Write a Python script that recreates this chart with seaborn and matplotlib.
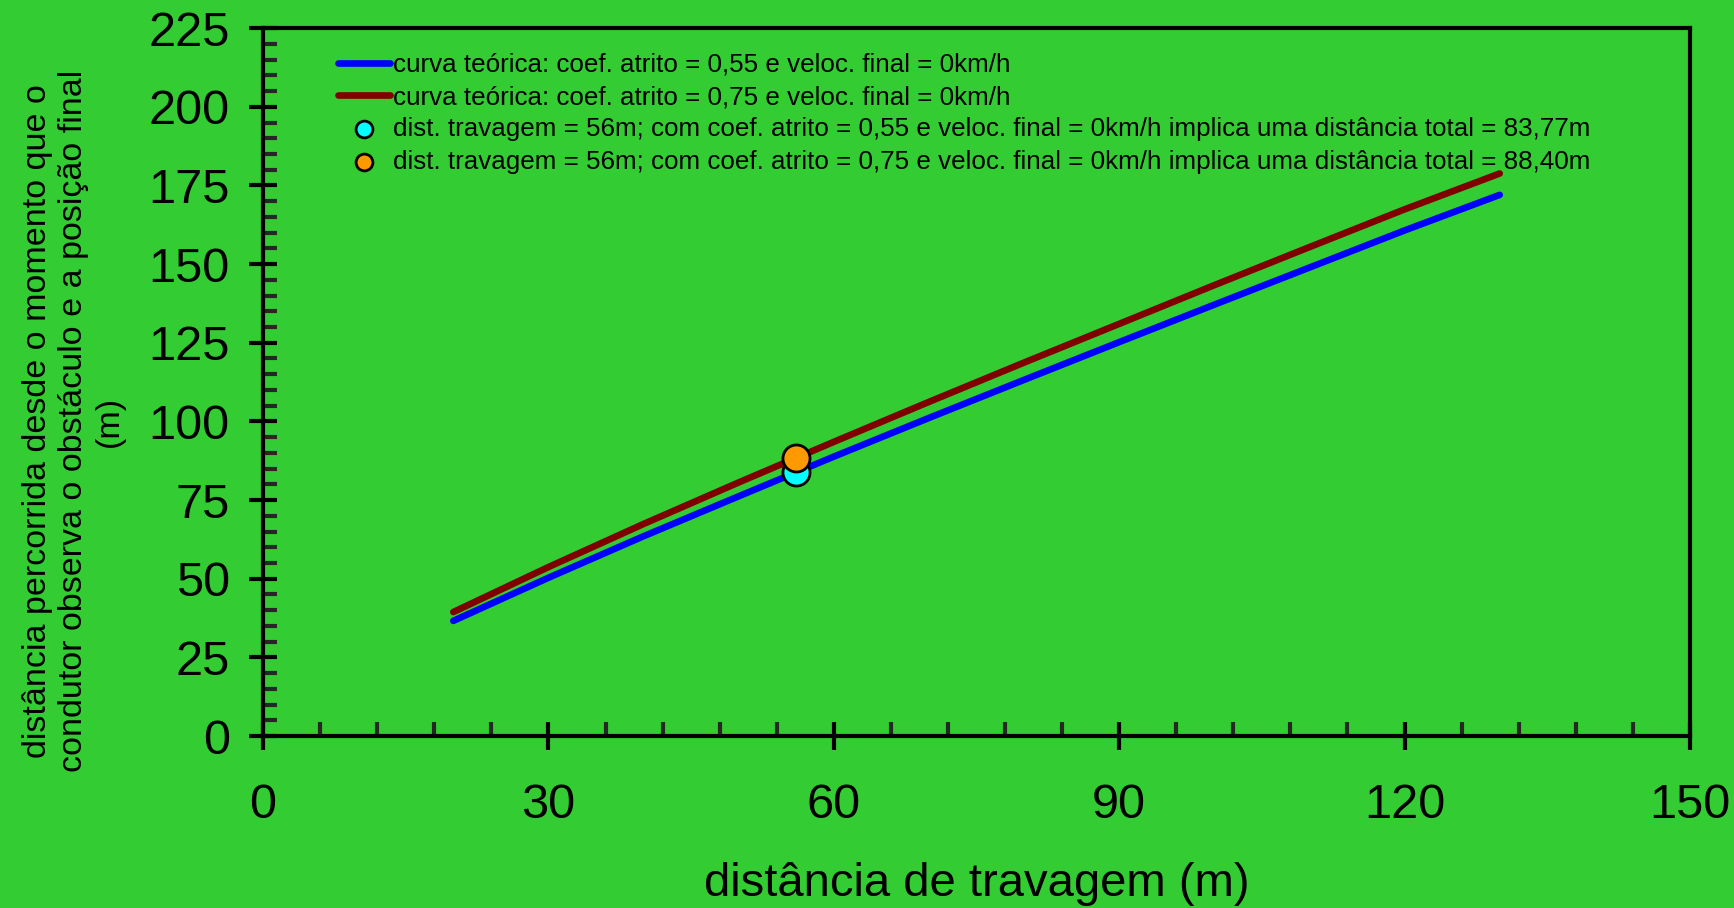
import numpy as np
import pandas as pd
import matplotlib
matplotlib.use('Agg')
import matplotlib.pyplot as plt
import seaborn as sns
from matplotlib.ticker import MultipleLocator

# values
dist_travagem = [20, 30, 40, 50, 60, 70, 80, 90, 100, 110, 120, 130]
total_055 = [36.6, 50.3, 63.5, 76.2, 88.8, 101.1, 113.2, 125.2, 137.1, 148.9, 160.7, 172.0]
total_075 = [39.4, 53.7, 67.4, 80.6, 93.5, 106.2, 118.7, 131.0, 143.3, 155.4, 167.4, 178.8]
ponto_x = [56, 56]
ponto_y = [83.77, 88.40]

lbl_055 = 'curva teórica: coef. atrito = 0,55 e veloc. final = 0km/h'
lbl_075 = 'curva teórica: coef. atrito = 0,75 e veloc. final = 0km/h'
lbl_p055 = 'dist. travagem = 56m; com coef. atrito = 0,55 e veloc. final = 0km/h implica uma distância total = 83,77m'
lbl_p075 = 'dist. travagem = 56m; com coef. atrito = 0,75 e veloc. final = 0km/h implica uma distância total = 88,40m'

green = '#33CC33'
sns.set_style('ticks')
plt.rcParams['font.family'] = ['Liberation Sans', 'DejaVu Sans']
plt.rcParams['text.color'] = 'black'
plt.rcParams['axes.labelcolor'] = 'black'

df = pd.DataFrame({'x': dist_travagem, 'a': total_055, 'b': total_075})

fig = plt.figure(figsize=(17.34, 9.08), dpi=100, facecolor=green)
ax = fig.add_axes([0.1517, 0.1894, 0.8229, 0.7796])
ax.set_facecolor(green)

sns.lineplot(data=df, x='x', y='a', ax=ax, color='#0000FF', lw=4.8, label=lbl_055)
sns.lineplot(data=df, x='x', y='b', ax=ax, color='#800000', lw=4.8, label=lbl_075)
sns.scatterplot(x=[ponto_x[0]], y=[ponto_y[0]], ax=ax, color='#00FFFF', s=380,
                edgecolor='black', linewidth=2, zorder=5, label=lbl_p055)
sns.scatterplot(x=[ponto_x[1]], y=[ponto_y[1]], ax=ax, color='#FF9900', s=380,
                edgecolor='black', linewidth=2, zorder=6, label=lbl_p075)

ax.set_xlim(0, 150)
ax.set_ylim(0, 225)
ax.xaxis.set_major_locator(MultipleLocator(30))
ax.xaxis.set_minor_locator(MultipleLocator(6))
ax.yaxis.set_major_locator(MultipleLocator(25))
ax.yaxis.set_minor_locator(MultipleLocator(5))

for s in ax.spines.values():
    s.set_linewidth(3)
    s.set_color('black')
ax.tick_params(which='major', direction='inout', length=20, width=3,
               labelsize=35, colors='black')
ax.tick_params(which='minor', direction='in', length=10, width=3)
ax.tick_params(axis='x', which='major', pad=24)
ax.tick_params(axis='y', which='major', pad=14)

ax.set_xlabel('distância de travagem (m)', fontsize=34, labelpad=24)
ax.set_ylabel('distância percorrida desde o momento que o\n'
              'condutor observa o obstáculo e a posição final\n(m)',
              fontsize=24.5, linespacing=1.2)
ax.yaxis.set_label_coords(-0.097, 0.445)

leg = ax.legend(loc='upper left', bbox_to_anchor=(0.045, 0.98), frameon=False,
                fontsize=18.7, handlelength=2.0, handletextpad=0.15,
                labelspacing=0.32, markerscale=0.62, borderaxespad=0)

fig.savefig('out.png', dpi=100, facecolor=green)
